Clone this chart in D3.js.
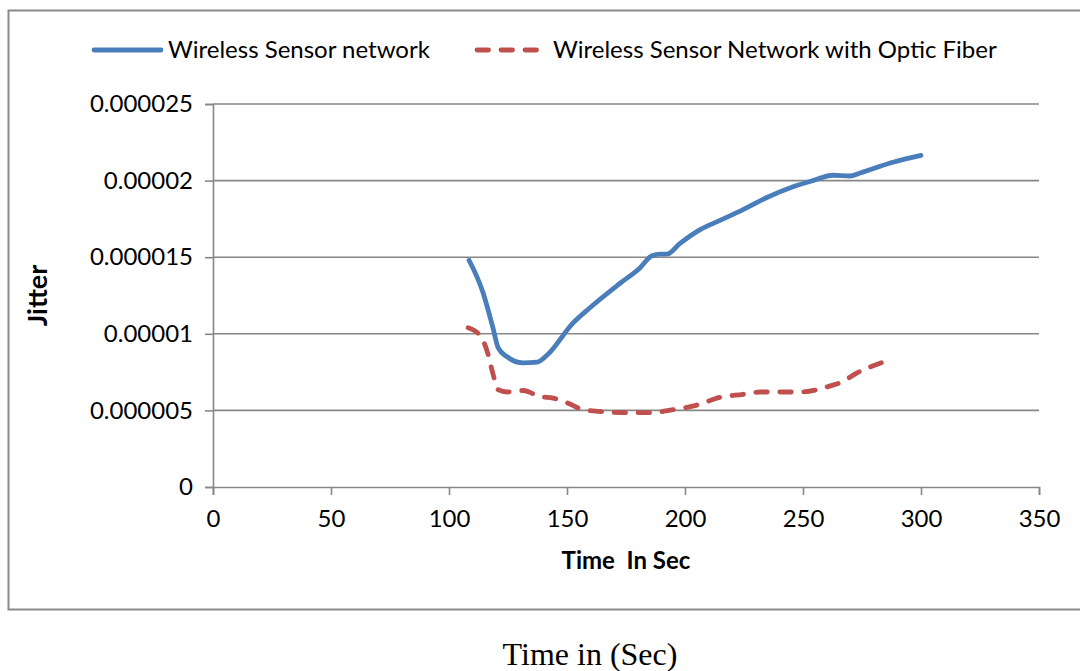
<!DOCTYPE html>
<html>
<head>
<meta charset="utf-8">
<script src="https://cdn.jsdelivr.net/npm/d3@7"></script>
<style>
  html, body { margin: 0; padding: 0; background: #fff; }
  svg { display: block; }
</style>
</head>
<body>
<div id="chart"></div>
<script>
// ---- data ----
const seriesNames = ["Wireless Sensor network", "Wireless Sensor Network with Optic Fiber"];
const wsnTime   = [108.5, 114.4, 118.6, 120.8, 124.6, 131.4, 137.3, 141.5, 152.5, 159.7, 172.5, 180.9, 186, 189.5, 192.4, 197.9, 206.4, 214.8, 224.6, 234.7, 245.8, 254.2, 262.7, 269.9, 274.2, 288.1, 300];
const wsnJitter = [14.8e-6, 12.7e-6, 10.4e-6, 9.1e-6, 8.5e-6, 8.1e-6, 8.15e-6, 8.6e-6, 10.7e-6, 11.7e-6, 13.3e-6, 14.3e-6, 15.1e-6, 15.2e-6, 15.2e-6, 15.9e-6, 16.8e-6, 17.4e-6, 18.1e-6, 18.9e-6, 19.6e-6, 20.0e-6, 20.35e-6, 20.3e-6, 20.5e-6, 21.2e-6, 21.65e-6];
const wofTime   = [108.1, 113.1, 116.1, 118.6, 120.8, 124.6, 131.4, 138.6, 144.1, 150, 156.8, 166.9, 176.7, 185.2, 194.9, 205.1, 214.8, 224.6, 231.8, 248.7, 262.7, 265.7, 272.9, 283.9];
const wofJitter = [10.4e-6, 9.9e-6, 8.9e-6, 7.4e-6, 6.35e-6, 6.2e-6, 6.3e-6, 5.9e-6, 5.8e-6, 5.5e-6, 5.05e-6, 4.9e-6, 4.85e-6, 4.85e-6, 5.05e-6, 5.35e-6, 5.85e-6, 6.05e-6, 6.2e-6, 6.2e-6, 6.65e-6, 6.8e-6, 7.45e-6, 8.15e-6];
const xTicks = [0, 50, 100, 150, 200, 250, 300, 350];
const yTicks = [0, 0.000005, 0.00001, 0.000015, 0.00002, 0.000025];
const yTickLabels = ["0", "0.000005", "0.00001", "0.000015", "0.00002", "0.000025"];
const xTitle = "Time  In Sec";
const yTitle = "Jitter";
const caption = "Time in (Sec)";

// ---- layout ----
const W = 1080, H = 671;
const plot = { left: 213, right: 1039, top: 104, bottom: 487 };
const colors = ["#4a7ebb", "#c0504d"];
const gridColor = "#878787";
const font = "Lato, 'Open Sans', sans-serif";
const dash = "11.5,12.5";

const svg = d3.select("#chart").append("svg").attr("width", W).attr("height", H);

// outer chart border
svg.append("rect")
  .attr("x", 8.5).attr("y", 10.5).attr("width", 1100).attr("height", 599)
  .attr("fill", "none").attr("stroke", "#8a8a8a").attr("stroke-width", 2);

const x = d3.scaleLinear().domain([0, 350]).range([plot.left, plot.right]);
const y = d3.scaleLinear().domain([0, 0.000025]).range([plot.bottom, plot.top]);

// gridlines
svg.append("g")
  .selectAll("line").data(yTicks.filter(d => d > 0)).join("line")
  .attr("x1", plot.left).attr("x2", plot.right)
  .attr("y1", d => y(d)).attr("y2", d => y(d))
  .attr("stroke", gridColor).attr("stroke-width", 1.6);

// y axis
const yAxis = svg.append("g")
  .attr("transform", `translate(${plot.left},0)`)
  .call(d3.axisLeft(y).tickValues(yTicks).tickSize(8).tickPadding(12)
    .tickFormat((d, i) => yTickLabels[i]));
yAxis.select(".domain").attr("stroke", gridColor).attr("stroke-width", 1.6);
yAxis.selectAll(".tick line").attr("stroke", gridColor).attr("stroke-width", 1.6);
yAxis.selectAll(".tick text").attr("font-family", font).attr("font-size", 24).attr("fill", "#000");

// x axis
const xAxis = svg.append("g")
  .attr("transform", `translate(0,${plot.bottom})`)
  .call(d3.axisBottom(x).tickValues(xTicks).tickSize(8).tickPadding(15));
xAxis.select(".domain").attr("stroke", gridColor).attr("stroke-width", 1.6);
xAxis.selectAll(".tick line").attr("stroke", gridColor).attr("stroke-width", 1.6);
xAxis.selectAll(".tick text").attr("font-family", font).attr("font-size", 24).attr("fill", "#000");

// axis titles
svg.append("text")
  .attr("x", (plot.left + plot.right) / 2).attr("y", 569)
  .attr("text-anchor", "middle").attr("font-family", font).attr("font-weight", "bold")
  .attr("font-size", 24).attr("xml:space", "preserve").style("white-space", "pre")
  .text(xTitle);

svg.append("text")
  .attr("transform", `translate(47,${(plot.top + plot.bottom) / 2}) rotate(-90)`)
  .attr("text-anchor", "middle").attr("font-family", font).attr("font-weight", "bold")
  .attr("font-size", 27)
  .text(yTitle);

// lines
const line = d3.line().x(d => x(d[0])).y(d => y(d[1])).curve(d3.curveMonotoneX);
const wsnData = wsnTime.map((t, i) => [t, wsnJitter[i]]);
const wofData = wofTime.map((t, i) => [t, wofJitter[i]]);

svg.append("path").datum(wsnData)
  .attr("d", line).attr("fill", "none")
  .attr("stroke", colors[0]).attr("stroke-width", 4.8)
  .attr("stroke-linecap", "round").attr("stroke-linejoin", "round");

svg.append("path").datum(wofData)
  .attr("d", line).attr("fill", "none")
  .attr("stroke", colors[1]).attr("stroke-width", 4.8)
  .attr("stroke-linecap", "round").attr("stroke-linejoin", "round")
  .attr("stroke-dasharray", dash);

// legend
const legend = svg.append("g");
const legendItems = [
  { x1: 94, x2: 161, tx: 168, dash: null },
  { x1: 477, x2: 539, tx: 553, dash: dash }
];
legendItems.forEach((it, i) => {
  legend.append("line")
    .attr("x1", it.x1).attr("x2", it.x2).attr("y1", 50).attr("y2", 50)
    .attr("stroke", colors[i]).attr("stroke-width", 4.8)
    .attr("stroke-linecap", "round")
    .attr("stroke-dasharray", it.dash);
  legend.append("text")
    .attr("x", it.tx).attr("y", 58)
    .attr("font-family", font).attr("font-size", 24).attr("fill", "#000")
    .text(seriesNames[i]);
});

// caption
svg.append("text")
  .attr("x", 590).attr("y", 665)
  .attr("text-anchor", "middle").attr("font-family", "'Liberation Serif', 'Times New Roman', serif")
  .attr("font-size", 32).attr("fill", "#000")
  .text(caption);
</script>
</body>
</html>
